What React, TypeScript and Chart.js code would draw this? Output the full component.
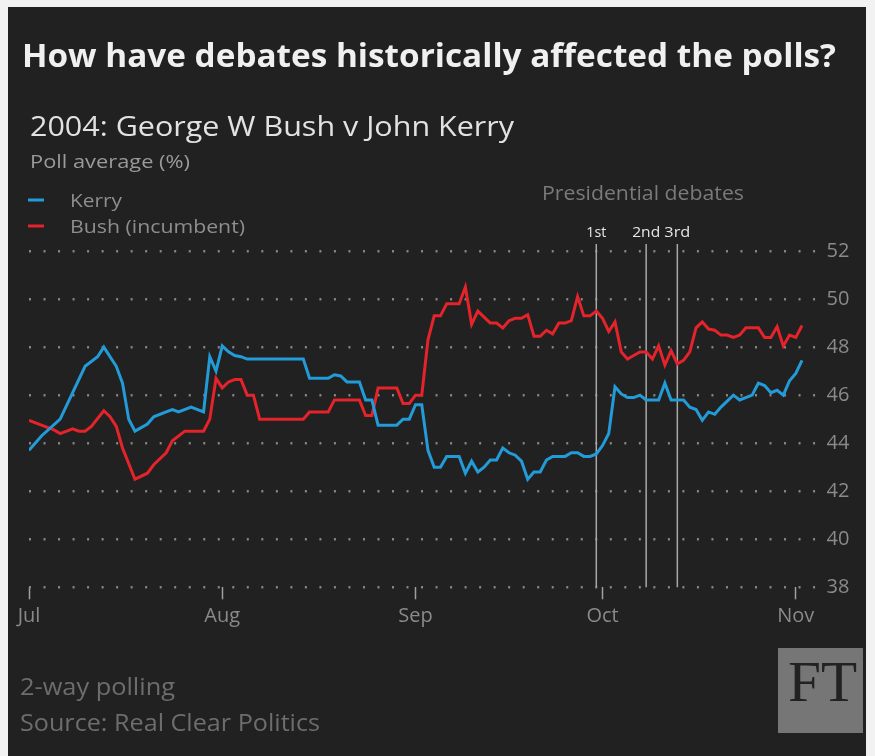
import React, { useEffect, useRef } from "react";
import { Chart, registerables } from "chart.js";

Chart.register(...registerables);

// Day index: 0 = 1 July 2004
const kerryDays = [0,2,5,7,9,11,12,14,15,16,17,19,20,22,23,24,26,28,29,30,31,32,33,34,35,44,45,48,49,50,51,53,54,55,56,59,60,61,62,63,64,65,66,67,69,70,71,72,73,74,75,76,77,78,79,80,81,82,83,84,86,87,88,89,90,91,92,93,94,95,96,97,98,99,101,102,103,105,106,107,108,109,110,111,113,114,116,117,118,119,120,121,122,123,124];
const kerryValues = [43.7,44.3,45.0,46.1,47.2,47.6,48.0,47.2,46.5,45.0,44.5,44.8,45.1,45.3,45.4,45.3,45.5,45.3,47.6,47.0,48.05,47.8,47.65,47.6,47.5,47.5,46.7,46.7,46.85,46.8,46.55,46.55,45.8,45.8,44.75,44.75,45.0,45.0,45.6,45.6,43.7,43.0,43.0,43.45,43.45,42.75,43.25,42.8,43.0,43.3,43.3,43.8,43.6,43.5,43.25,42.5,42.8,42.8,43.3,43.45,43.45,43.6,43.6,43.45,43.45,43.55,43.9,44.4,46.35,46.05,45.9,45.9,46.0,45.8,45.8,46.5,45.8,45.8,45.5,45.4,44.95,45.3,45.2,45.5,46.0,45.8,46.0,46.5,46.4,46.1,46.2,46.0,46.6,46.9,47.45];

const bushDays = [0,2,4,5,7,8,9,10,12,13,14,15,17,19,20,22,23,25,28,29,30,31,32,33,34,35,36,37,44,45,48,49,53,54,55,56,59,60,61,62,63,64,65,66,67,69,70,71,72,73,74,75,76,77,78,79,80,81,82,83,84,85,86,87,88,89,90,91,92,93,94,95,96,97,98,99,100,101,102,103,104,105,106,107,108,109,110,111,112,113,114,115,117,118,119,120,121,122,123,124];
const bushValues = [44.95,44.75,44.55,44.4,44.6,44.5,44.5,44.7,45.35,45.1,44.7,43.8,42.5,42.75,43.1,43.6,44.1,44.5,44.5,45.0,46.7,46.3,46.55,46.65,46.65,46.0,46.0,45.0,45.0,45.3,45.3,45.8,45.8,45.15,45.15,46.3,46.3,45.65,45.65,46.0,46.0,48.3,49.3,49.3,49.8,49.8,50.5,48.95,49.5,49.25,49.0,49.0,48.8,49.1,49.2,49.2,49.35,48.45,48.45,48.7,48.55,49.0,49.0,49.1,50.1,49.3,49.3,49.5,49.2,48.65,49.05,47.8,47.5,47.65,47.8,47.8,47.5,48.05,47.25,47.85,47.3,47.45,47.8,48.8,49.05,48.75,48.7,48.5,48.5,48.4,48.5,48.8,48.8,48.4,48.4,48.85,48.05,48.5,48.4,48.9];

const seriesNames = ["Kerry", "Bush (incumbent)"];
const monthTickDays = [0, 31, 62, 92, 123];
const monthTickLabels = ["Jul", "Aug", "Sep", "Oct", "Nov"];
const yTickValues = [38, 40, 42, 44, 46, 48, 50, 52];
const debateDays = [91, 99, 104];
const debateLabels = ["1st", "2nd", "3rd"];

const titleText = "How have debates historically affected the polls?";
const subtitleText = "2004: George W Bush v John Kerry";
const yAxisTitle = "Poll average (%)";
const debatesTitle = "Presidential debates";
const noteText = "2-way polling";
const sourceText = "Source: Real Clear Politics";

const KERRY = "#239bd8";
const BUSH = "#e4232b";
const SANS = "'Open Sans', 'DejaVu Sans', sans-serif";

function fitText(ctx: CanvasRenderingContext2D, text: string, x: number, y: number, width: number, font: string, color: string, align: "left" | "center" = "left") {
  ctx.save();
  ctx.font = font;
  ctx.fillStyle = color;
  ctx.textBaseline = "alphabetic";
  ctx.textAlign = "left";
  const w = ctx.measureText(text).width;
  const s = width / w;
  const left = align === "center" ? x - width / 2 : x;
  ctx.translate(left, y);
  ctx.scale(s, 1);
  ctx.fillText(text, 0, 0);
  ctx.restore();
}

const decorPlugin = {
  id: "decor",
  beforeDatasetsDraw(chart: any) {
    const { ctx, chartArea, scales } = chart;
    const x = scales.x;
    ctx.save();
    ctx.strokeStyle = "#a9a9a9";
    ctx.lineWidth = 1.5;
    debateDays.forEach((d) => {
      const px = x.getPixelForValue(d);
      ctx.beginPath();
      ctx.moveTo(px, 244);
      ctx.lineTo(px, chartArea.bottom);
      ctx.stroke();
    });
    ctx.restore();
  },
  afterDraw(chart: any) {
    const { ctx, scales } = chart;
    const x = scales.x;
    fitText(ctx, titleText, 22, 67, 814, `bold 32px ${SANS}`, "#f0f0f0");
    fitText(ctx, subtitleText, 30, 136, 484, `27px ${SANS}`, "#e2e2e2");
    fitText(ctx, yAxisTitle, 30, 168, 160, `19px ${SANS}`, "#9a9a9a");

    // legend
    ctx.save();
    ctx.lineWidth = 3;
    ctx.strokeStyle = KERRY;
    ctx.beginPath(); ctx.moveTo(28, 200); ctx.lineTo(44, 200); ctx.stroke();
    ctx.strokeStyle = BUSH;
    ctx.beginPath(); ctx.moveTo(28, 226); ctx.lineTo(44, 226); ctx.stroke();
    ctx.restore();
    fitText(ctx, seriesNames[0], 70, 207, 52, `19px ${SANS}`, "#8e8e8e");
    fitText(ctx, seriesNames[1], 70, 233, 175, `19px ${SANS}`, "#8e8e8e");

    fitText(ctx, debatesTitle, 542, 200, 202, `20px ${SANS}`, "#7a7a7a");
    const labelW = [20, 28, 26];
    debateDays.forEach((d, i) => {
      fitText(ctx, debateLabels[i], x.getPixelForValue(d), 237, labelW[i], `15px ${SANS}`, "#e6e6e6", "center");
    });

    fitText(ctx, noteText, 20, 695, 155, `23px ${SANS}`, "#6d6d6d");
    fitText(ctx, sourceText, 20, 731, 300, `23px ${SANS}`, "#6d6d6d");

    // FT mark
    ctx.save();
    ctx.fillStyle = "#767676";
    ctx.fillRect(778, 648, 85, 85);
    ctx.restore();
    fitText(ctx, "FT", 788, 701, 69, `58px 'Liberation Serif', 'DejaVu Serif', serif`, "#222222");
  },
};

export default function App() {
  const ref = useRef<HTMLCanvasElement>(null);
  useEffect(() => {
    if (!ref.current) return;
    const chart = new Chart(ref.current, {
      type: "line",
      data: {
        datasets: [
          {
            label: seriesNames[0],
            data: kerryDays.map((d, i) => ({ x: d, y: kerryValues[i] })),
            borderColor: KERRY,
            borderWidth: 3,
            pointRadius: 0,
            tension: 0,
            fill: false,
          },
          {
            label: seriesNames[1],
            data: bushDays.map((d, i) => ({ x: d, y: bushValues[i] })),
            borderColor: BUSH,
            borderWidth: 3,
            pointRadius: 0,
            tension: 0,
            fill: false,
          },
        ],
      },
      options: {
        animation: false,
        responsive: false,
        maintainAspectRatio: false,
        layout: { padding: { left: 29, top: 251, right: 0, bottom: 0 } },
        plugins: {
          legend: { display: false },
          tooltip: { enabled: false },
        },
        scales: {
          x: {
            type: "linear",
            min: 0,
            max: 126.5,
            afterBuildTicks: (s: any) => {
              s.ticks = monthTickDays.map((v) => ({ value: v }));
            },
            afterFit: (s: any) => {
              s.height = 756 - 587.3;
            },
            ticks: {
              autoSkip: false,
              maxRotation: 0,
              color: "#8a8a8a",
              font: { family: SANS, size: 20 },
              padding: 5,
              callback: (_v: any, i: number) => monthTickLabels[i],
            },
            grid: {
              drawOnChartArea: false,
              drawTicks: true,
              tickLength: 12,
              tickColor: "#a0a0a0",
              tickWidth: 1.5,
            },
            border: { display: false },
          },
          y: {
            position: "right",
            min: 38,
            max: 52,
            afterBuildTicks: (s: any) => {
              s.ticks = yTickValues.map((v) => ({ value: v }));
            },
            afterFit: (s: any) => {
              s.width = 875 - 817.6;
            },
            ticks: {
              color: "#8a8a8a",
              font: { family: SANS, size: 20 },
              padding: 9,
            },
            grid: {
              color: "#858585",
              lineWidth: 2.5,
              drawTicks: false,
            },
            border: { display: false, dash: [2, 12.52] },
          },
        },
      },
      plugins: [decorPlugin],
    } as any);
    return () => chart.destroy();
  }, []);

  return (
    <div style={{ position: "absolute", left: 0, top: 0, width: 875, height: 756, background: "#f2f2f2", overflow: "hidden" }}>
      <div style={{ position: "absolute", left: 8, top: 7, width: 858, height: 749, background: "#212121" }} />
      <canvas ref={ref} width={875} height={756} style={{ position: "absolute", left: 0, top: 0, width: 875, height: 756 }} />
    </div>
  );
}
